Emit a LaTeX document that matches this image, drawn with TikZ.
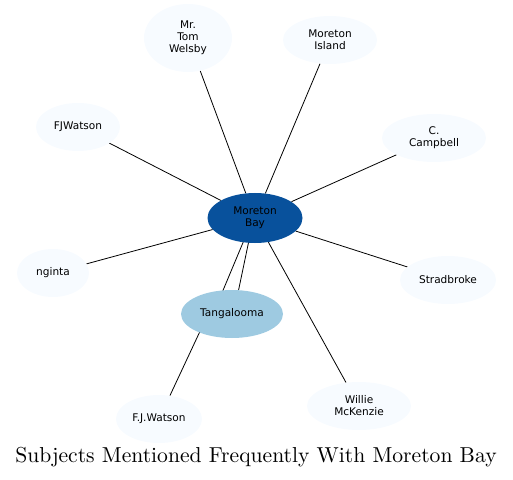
\documentclass[tikz,border=0pt]{standalone}
\usepackage{fontspec}
\setsansfont{DejaVu Sans}
\newfontfamily\titlefont{lmroman10-regular}[Extension=.otf]
\usepackage{xcolor}
\usetikzlibrary{shapes.geometric, backgrounds}
\definecolor{hubblue}{HTML}{08519C}
\definecolor{midblue}{HTML}{9ECAE1}
\definecolor{paleblue}{HTML}{F7FBFF}

\begin{document}
\begin{tikzpicture}[
  x=1bp, y=-1bp,
  every node/.style={font=\sffamily\fontsize{10.6}{12}\selectfont},
  subj/.style={ellipse, fill=paleblue, draw=none, align=center, minimum height=48bp, inner sep=0pt},
  hub/.style={ellipse, fill=hubblue, draw=none, align=center, minimum width=95bp, minimum height=50bp, inner sep=0pt},
  near/.style={ellipse, fill=midblue, draw=none, align=center, minimum width=102bp, minimum height=48bp, inner sep=0pt},
  link/.style={draw=black, line width=0.8bp}
]
  \useasboundingbox (0,0) rectangle (513,480);

  \node[hub] (mb) at (255,218) {Moreton\\Bay};
  \node[near] (tg) at (232,314) {Tangalooma};

  \node[subj, minimum width=88bp, minimum height=68bp] (tw) at (188,38) {Mr.\\Tom\\Welsby};
  \node[subj, minimum width=94bp] (mi) at (330,40) {Moreton\\Island};
  \node[subj, minimum width=84bp] (fjw) at (78,127) {FJWatson};
  \node[subj, minimum width=104bp] (cc) at (434,138) {C.\\Campbell};
  \node[subj, minimum width=72bp] (ng) at (53,273) {nginta};
  \node[subj, minimum width=96bp] (sb) at (448,280) {Stradbroke};
  \node[subj, minimum width=86bp] (fjd) at (159,419) {F.J.Watson};
  \node[subj, minimum width=104bp] (wm) at (359,406) {Willie\\McKenzie};

  \node[font=\titlefont\fontsize{21.7}{26}\selectfont] (title) at (256,457) {Subjects Mentioned Frequently With Moreton Bay};

  \begin{pgfonlayer}{background}
  \draw[link] (mb) -- (tw);
  \draw[link] (mb) -- (mi);
  \draw[link] (mb) -- (fjw);
  \draw[link] (mb) -- (cc);
  \draw[link] (mb) -- (ng);
  \draw[link] (mb) -- (sb);
  \draw[link] (mb) -- (wm);
  \draw[link] ([shift={(-11,-3)}]mb.south) -- ([shift={(-10,3)}]tg.north);
  \draw[link] ([shift={(-6,-3)}]mb.south) -- ([shift={(6,3)}]tg.north);
  \draw[link] ([xshift=-24]tg.center) -- (fjd);
  \end{pgfonlayer}
\end{tikzpicture}
\end{document}
